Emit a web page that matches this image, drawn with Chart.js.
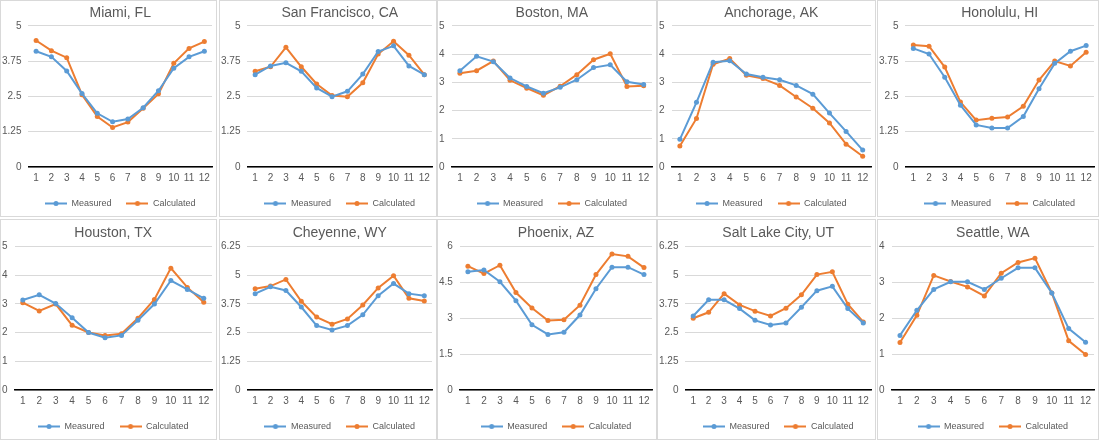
<!DOCTYPE html>
<html>
<head>
<meta charset="utf-8">
<script src="https://cdn.jsdelivr.net/npm/chart.js@4.4.1/dist/chart.umd.min.js"></script>
<style>
  body { margin: 0; background: #fff; width: 1100px; height: 441px; position: relative; overflow: hidden; }
  .panel { position: absolute; border: 1px solid #d9d9d9; box-sizing: border-box; background: #fff; }
  .panel canvas { display: block; }
</style>
</head>
<body>
<script>
const months = ['1', '2', '3', '4', '5', '6', '7', '8', '9', '10', '11', '12'];
const cities = ['Miami, FL', 'San Francisco, CA', 'Boston, MA', 'Anchorage, AK', 'Honolulu, HI',
  'Houston, TX', 'Cheyenne, WY', 'Phoenix, AZ', 'Salt Lake City, UT', 'Seattle, WA'];

const miamiMeasured = [4.1, 3.9, 3.4, 2.6, 1.9, 1.6, 1.7, 2.1, 2.7, 3.5, 3.9, 4.1];
const miamiCalculated = [4.48, 4.12, 3.87, 2.56, 1.79, 1.4, 1.59, 2.08, 2.59, 3.67, 4.2, 4.44];
const sfMeasured = [3.27, 3.58, 3.69, 3.39, 2.8, 2.49, 2.68, 3.29, 4.09, 4.29, 3.58, 3.27];
const sfCalculated = [3.39, 3.55, 4.24, 3.55, 2.94, 2.53, 2.49, 2.98, 4.0, 4.45, 3.96, 3.27];
const bostonMeasured = [3.41, 3.92, 3.73, 3.15, 2.85, 2.61, 2.82, 3.09, 3.52, 3.62, 3.02, 2.92];
const bostonCalculated = [3.32, 3.41, 3.75, 3.07, 2.79, 2.54, 2.86, 3.27, 3.8, 4.01, 2.85, 2.88];
const anchorageMeasured = [0.98, 2.29, 3.71, 3.76, 3.29, 3.18, 3.09, 2.89, 2.58, 1.91, 1.26, 0.6];
const anchorageCalculated = [0.74, 1.72, 3.64, 3.84, 3.25, 3.13, 2.89, 2.48, 2.08, 1.56, 0.81, 0.38];
const honoluluMeasured = [4.2, 4.0, 3.18, 2.19, 1.49, 1.38, 1.38, 1.79, 2.77, 3.67, 4.1, 4.3];
const honoluluCalculated = [4.32, 4.28, 3.54, 2.3, 1.66, 1.73, 1.77, 2.15, 3.08, 3.75, 3.58, 4.06];
const houstonMeasured = [3.13, 3.31, 3.01, 2.51, 2.0, 1.82, 1.9, 2.43, 2.99, 3.81, 3.5, 3.19];
const houstonCalculated = [3.04, 2.75, 2.99, 2.25, 2.0, 1.9, 1.96, 2.5, 3.15, 4.24, 3.57, 3.05];
const cheyenneMeasured = [4.19, 4.49, 4.33, 3.61, 2.8, 2.61, 2.8, 3.27, 4.1, 4.63, 4.19, 4.1];
const cheyenneCalculated = [4.4, 4.52, 4.81, 3.86, 3.17, 2.86, 3.09, 3.7, 4.44, 4.97, 3.99, 3.87];
const phoenixMeasured = [4.94, 5.01, 4.52, 3.73, 2.72, 2.32, 2.41, 3.13, 4.23, 5.13, 5.13, 4.82];
const phoenixCalculated = [5.17, 4.86, 5.21, 4.07, 3.42, 2.9, 2.93, 3.54, 4.82, 5.68, 5.58, 5.11];
const saltLakeMeasured = [3.22, 3.92, 3.92, 3.54, 3.03, 2.83, 2.91, 3.6, 4.32, 4.51, 3.54, 2.91];
const saltLakeCalculated = [3.12, 3.38, 4.19, 3.7, 3.43, 3.22, 3.56, 4.14, 5.02, 5.14, 3.73, 2.96];
const seattleMeasured = [1.52, 2.22, 2.8, 3.01, 3.01, 2.8, 3.11, 3.4, 3.4, 2.7, 1.71, 1.33];
const seattleCalculated = [1.32, 2.08, 3.19, 3.02, 2.87, 2.62, 3.25, 3.55, 3.67, 2.7, 1.37, 0.99];

const measured = [miamiMeasured, sfMeasured, bostonMeasured, anchorageMeasured, honoluluMeasured,
  houstonMeasured, cheyenneMeasured, phoenixMeasured, saltLakeMeasured, seattleMeasured];
const calculated = [miamiCalculated, sfCalculated, bostonCalculated, anchorageCalculated, honoluluCalculated,
  houstonCalculated, cheyenneCalculated, phoenixCalculated, saltLakeCalculated, seattleCalculated];
const axisMax = [5, 5, 5, 5, 5, 5, 6.25, 6, 6.25, 4];
const axisStep = [1.25, 1.25, 1, 1, 1.25, 1, 1.25, 1.5, 1.25, 1];

// panel boxes
const colLeft = [0, 219, 437, 657, 877];
const colWidth = [217, 218, 220, 219, 222];
const rowTop = [0, 219];
const rowHeight = [217, 221];

const BLUE = '#5b9bd5';
const ORANGE = '#ed7d31';
const TEXT = '#595959';
const FONT = '"Liberation Sans", Arial, sans-serif';

// line-with-dot swatch for the legend
function legendMark(color) {
  const c = document.createElement('canvas');
  c.width = 22;
  c.height = 7;
  const g = c.getContext('2d');
  g.strokeStyle = color;
  g.lineWidth = 2;
  g.beginPath();
  g.moveTo(0, 3.5);
  g.lineTo(22, 3.5);
  g.stroke();
  g.fillStyle = color;
  g.beginPath();
  g.arc(11, 3.5, 2.5, 0, Math.PI * 2);
  g.fill();
  return c;
}
const marks = [legendMark(BLUE), legendMark(ORANGE)];

cities.forEach((city, i) => {
  const row = Math.floor(i / 5);
  const col = i % 5;
  const div = document.createElement('div');
  div.className = 'panel';
  div.style.left = colLeft[col] + 'px';
  div.style.top = rowTop[row] + 'px';
  div.style.width = colWidth[col] + 'px';
  div.style.height = rowHeight[row] + 'px';
  const canvas = document.createElement('canvas');
  div.appendChild(canvas);
  document.body.appendChild(div);

  new Chart(canvas.getContext('2d'), {
    type: 'line',
    data: {
      labels: months,
      datasets: [
        {
          label: 'Measured',
          data: measured[i],
          borderColor: BLUE,
          backgroundColor: BLUE,
          borderWidth: 2,
          pointRadius: 2.5,
          pointBorderWidth: 0,
          tension: 0,
        },
        {
          label: 'Calculated',
          data: calculated[i],
          borderColor: ORANGE,
          backgroundColor: ORANGE,
          borderWidth: 2,
          pointRadius: 2.5,
          pointBorderWidth: 0,
          tension: 0,
        },
      ],
    },
    options: {
      responsive: true,
      maintainAspectRatio: false,
      animation: false,
      devicePixelRatio: 1,
      // bottom pulled out a little so the legend sits lower, like Excel's
      layout: { padding: { left: 1, right: 2, top: 0, bottom: -2 } },
      plugins: {
        title: {
          display: true,
          text: city,
          color: TEXT,
          fullSize: false,
          font: { family: FONT, size: 14, weight: 'normal' },
          padding: row === 0 ? { top: 4, bottom: 4 } : { top: 5, bottom: 4.5 },
        },
        legend: {
          display: true,
          position: 'bottom',
          fullSize: false,
          labels: {
            usePointStyle: true,
            pointStyleWidth: 22,
            color: TEXT,
            padding: 15,
            font: { family: FONT, size: 9 },
            generateLabels: (chart) => chart.data.datasets.map((ds, k) => ({
              text: ds.label,
              pointStyle: marks[k],
              fillStyle: ds.borderColor,
              strokeStyle: ds.borderColor,
              fontColor: TEXT,
              lineWidth: 0,
              hidden: false,
              datasetIndex: k,
            })),
          },
        },
        tooltip: { enabled: false },
      },
      scales: {
        x: {
          offset: true,
          grid: { display: false, drawTicks: false },
          border: { display: true, color: '#000', width: 1.5 },
          ticks: {
            color: TEXT,
            font: { family: FONT, size: 10 },
            padding: 5,
            maxRotation: 0,
            autoSkip: false,
          },
          afterFit: (s) => { s.height = 17; },
        },
        y: {
          min: 0,
          max: axisMax[i],
          grid: { color: '#d9d9d9', drawTicks: false },
          border: { display: false },
          ticks: {
            stepSize: axisStep[i],
            color: TEXT,
            font: { family: FONT, size: 10 },
            padding: 7,
            callback: (v) => String(Math.round(v * 100) / 100),
          },
          // Chart.js reserves the tick padding twice; keep it only on the plot side
          afterFit: (s) => { s.width -= s.options.ticks.padding; },
        },
      },
    },
  });
});
</script>
</body>
</html>
